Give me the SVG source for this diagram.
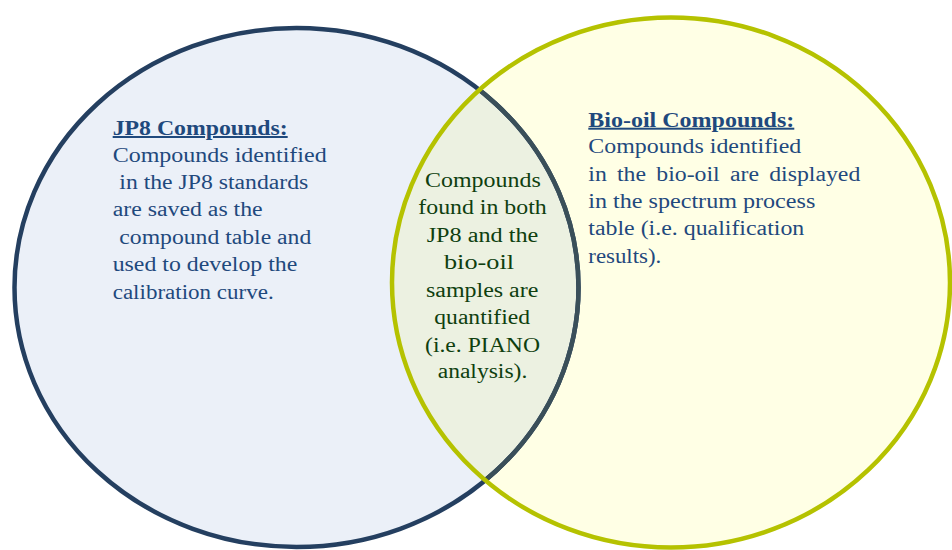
<svg xmlns="http://www.w3.org/2000/svg" width="952" height="550" viewBox="0 0 952 550">
  <defs>
    <style>
      .blue { fill: #1f497d; }
      .green { fill: #0f3f0f; }
      .hd { font-weight: bold; text-decoration: underline; }
    </style>
    <clipPath id="clipLeft">
      <ellipse cx="296.5" cy="287.5" rx="282" ry="259.5"/>
    </clipPath>
    <clipPath id="clipRight">
      <ellipse cx="671" cy="282.5" rx="279" ry="265"/>
    </clipPath>
  </defs>
  <rect width="952" height="550" fill="#ffffff"/>

  <g id="jp8">
    <ellipse cx="296.5" cy="287.5" rx="282" ry="259.5" fill="#ebf0f8"/>
  </g>
  <g id="biooil">
    <ellipse cx="671" cy="282.5" rx="279" ry="265" fill="#ffffe5"/>
  </g>
  <g id="overlap">
    <ellipse cx="671" cy="282.5" rx="279" ry="265" fill="#ecf1e1" clip-path="url(#clipLeft)"/>
  </g>

  <g id="outlines" fill="none" stroke-width="4.5">
    <ellipse cx="296.5" cy="287.5" rx="282" ry="259.5" stroke="#243f60"/>
    <ellipse cx="296.5" cy="287.5" rx="282" ry="259.5" stroke="#3a4f59" clip-path="url(#clipRight)"/>
    <ellipse cx="671" cy="282.5" rx="279" ry="265" stroke="#b5c200"/>
  </g>

  <g id="jp8-text" class="blue" font-family="'Liberation Serif', 'Times New Roman', Times, serif" font-size="20">
    <text class="hd" x="112.7" y="135" textLength="175" lengthAdjust="spacingAndGlyphs">JP8 Compounds:</text>
    <text x="112.7" y="161.5" textLength="214" lengthAdjust="spacingAndGlyphs">Compounds identified</text>
    <text x="119.3" y="189" textLength="189" lengthAdjust="spacingAndGlyphs">in the JP8 standards</text>
    <text x="112.7" y="216" textLength="150" lengthAdjust="spacingAndGlyphs">are saved as the</text>
    <text x="119.3" y="243.5" textLength="192" lengthAdjust="spacingAndGlyphs">compound table and</text>
    <text x="112.7" y="271" textLength="184.6" lengthAdjust="spacingAndGlyphs">used to develop the</text>
    <text x="112.7" y="298.5" textLength="161" lengthAdjust="spacingAndGlyphs">calibration curve.</text>
  </g>

  <g id="biooil-text" class="blue" font-family="'Liberation Serif', 'Times New Roman', Times, serif" font-size="20">
    <text class="hd" x="588.3" y="126.7" textLength="206" lengthAdjust="spacingAndGlyphs">Bio-oil Compounds:</text>
    <text x="588.3" y="153.3" textLength="213" lengthAdjust="spacingAndGlyphs">Compounds identified</text>
    <text x="588.3" y="180.7" textLength="272" lengthAdjust="spacingAndGlyphs" word-spacing="3.6">in the bio-oil are displayed</text>
    <text x="588.3" y="207.5" textLength="227" lengthAdjust="spacingAndGlyphs">in the spectrum process</text>
    <text x="588.3" y="235" textLength="216" lengthAdjust="spacingAndGlyphs">table (i.e. qualification</text>
    <text x="588.3" y="262.7" textLength="73" lengthAdjust="spacingAndGlyphs">results).</text>
  </g>

  <g id="overlap-text" class="green" font-family="'Liberation Serif', 'Times New Roman', Times, serif" font-size="20">
    <text x="425" y="186.7" textLength="115.7" lengthAdjust="spacingAndGlyphs">Compounds</text>
    <text x="418.3" y="214" textLength="128.4" lengthAdjust="spacingAndGlyphs">found in both</text>
    <text x="426.7" y="241.7" textLength="111.6" lengthAdjust="spacingAndGlyphs">JP8 and the</text>
    <text x="444" y="269" textLength="70" lengthAdjust="spacingAndGlyphs">bio-oil</text>
    <text x="426" y="296.7" textLength="112.3" lengthAdjust="spacingAndGlyphs">samples are</text>
    <text x="434.3" y="324" textLength="95.7" lengthAdjust="spacingAndGlyphs">quantified</text>
    <text x="425" y="351.7" textLength="115" lengthAdjust="spacingAndGlyphs">(i.e. PIANO</text>
    <text x="437.7" y="378" textLength="89.6" lengthAdjust="spacingAndGlyphs">analysis).</text>
  </g>
</svg>
